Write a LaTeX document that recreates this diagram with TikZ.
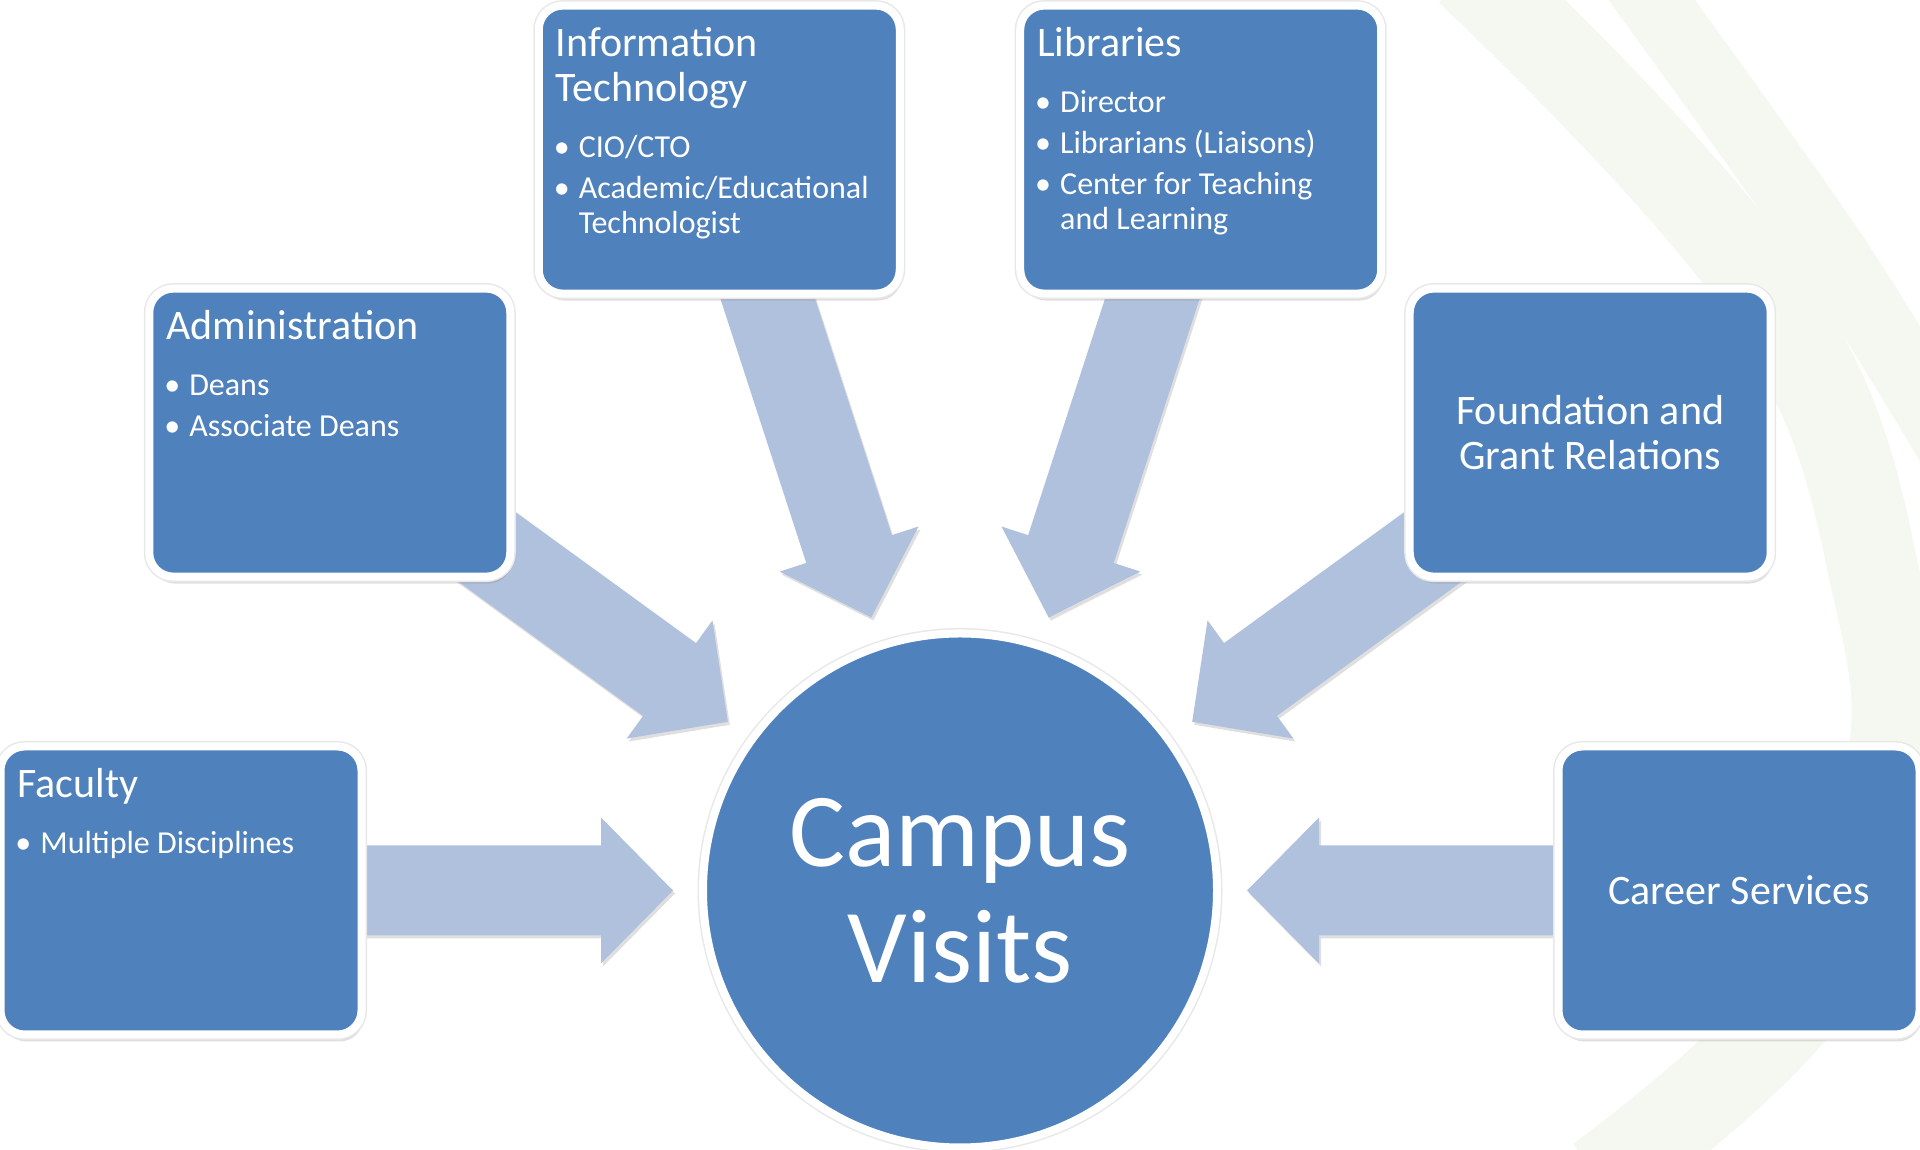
\documentclass[tikz,border=0pt]{standalone}
\usepackage{fontspec}
\setmainfont{Carlito}
\usetikzlibrary{calc, shadows, backgrounds}
\definecolor{cvblue}{HTML}{4F81BD}
\definecolor{cvarrow}{HTML}{B0C1DD}
\definecolor{cvswirl}{HTML}{F5F8F1}
\newcommand*{\headfont}{\fontsize{42pt}{45pt}\selectfont}
\newcommand*{\itemfont}{\fontsize{32pt}{34.5pt}\selectfont}
\newcommand*{\bul}{\par\hangindent=23pt\hangafter=1\noindent\makebox[23pt][l]{\hspace{-2pt}\textbullet}}
\newcommand{\unitlist}[2]{\parbox[c][288pt][t]{327pt}{\raggedright\headfont\rule{0pt}{51pt}#1\par
  \vspace{15pt}\itemfont\setlength{\parskip}{6.5pt}#2}}

\begin{document}
\begin{tikzpicture}[x=1pt, y=1pt,
    halo/.style={preaction={draw=black!9, line width=11pt}},
    unit/.style={draw=white, line width=8pt, fill=cvblue, rounded corners=24pt,
      minimum width=361pt, minimum height=288pt, inner xsep=17pt, inner ysep=0pt,
      text=white, drop shadow={shadow xshift=2pt, shadow yshift=-7pt, opacity=.25}, halo},
    hub/.style={circle, draw=white, line width=8pt, fill=cvblue, minimum size=514pt,
      inner sep=0pt, text=white, align=center, font=\fontsize{105pt}{116pt}\selectfont,
      drop shadow={shadow xshift=1pt, shadow yshift=-4pt, opacity=.15}, halo},
    bigarrow/.style={fill=cvarrow, drop shadow={shadow xshift=2pt, shadow yshift=-3pt, opacity=.25}},
    swirl/.style={draw=cvswirl, line width=#1}]
  \useasboundingbox (0,0) rectangle (1920,1150);

  % hub and the six units round it
  \node[hub] (cv) at (960,259.5) {Campus\\Visits};
  \node[unit] (fac) at ($(cv)+(180:779)$) {\unitlist{Faculty}{\bul Multiple Disciplines}};
  \node[unit] (adm) at ($(cv)+(144:779)$) {\unitlist{Administration}{\bul Deans \bul Associate Deans}};
  \node[unit] (it) at ($(cv)+(108:779)$)
    {\unitlist{Information\newline Technology}{\bul CIO/CTO \bul Academic/Educational\newline Technologist}};
  \node[unit] (lib) at ($(cv)+(72:779)$)
    {\unitlist{Libraries}{\bul Director \bul Librarians (Liaisons) \bul Center for Teaching\newline and Learning}};
  \node[unit, align=center, font=\headfont] (fgr) at ($(cv)+(36:779)$) {Foundation and\\Grant Relations};
  \node[unit, align=center, font=\headfont] (car) at ($(cv)+(0:779)$) {Career Services};

  \begin{pgfonlayer}{background}
    \fill[white] (0,0) rectangle (1920,1150);
    \begin{scope}
      \clip (0,0) rectangle (1920,1150);
      \draw[swirl=90pt] plot[smooth, tension=.7] coordinates
        {(1470,1180) (1770,850) (1880,550) (1885,350) (1800,150) (1600,-30)};
      \draw[swirl=70pt] plot[smooth] coordinates {(1630,1180) (1830,900) (1960,690)};
    \end{scope}
    % block arrows from each unit into the hub
    \foreach \n in {fac,adm,it,lib,fgr,car}{
      \coordinate (tip) at ($(cv)!287pt!(\n)$);
      \coordinate (neck) at ($(cv)!359pt!(\n)$);
      \fill[bigarrow] (tip) -- ($(neck)!73pt!90:(tip)$) -- ($(neck)!45pt!90:(tip)$)
        -- ($(\n)!45pt!90:(cv)$) -- ($(\n)!45pt!-90:(cv)$)
        -- ($(neck)!45pt!-90:(tip)$) -- ($(neck)!73pt!-90:(tip)$) -- cycle;
    }
  \end{pgfonlayer}
\end{tikzpicture}
\end{document}
